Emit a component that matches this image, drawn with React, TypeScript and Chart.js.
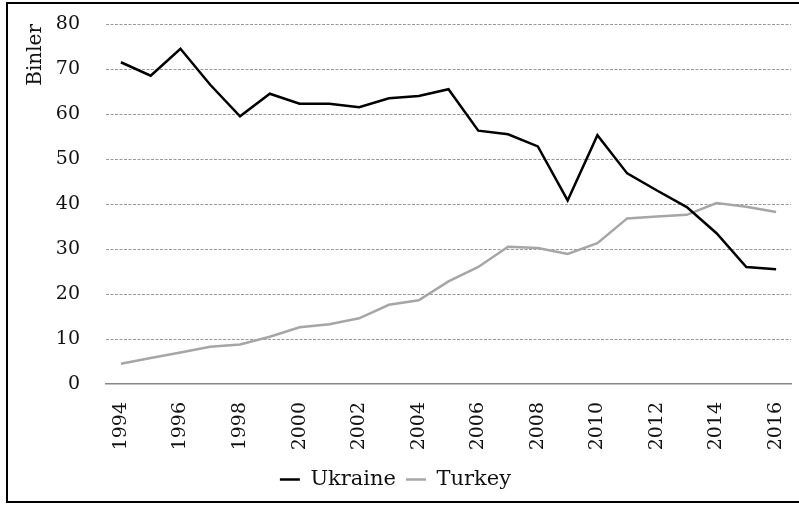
import React, { useEffect, useRef } from "react";
import { Chart, registerables } from "chart.js";

Chart.register(...registerables);

const years = ["1994","1995","1996","1997","1998","1999","2000","2001","2002","2003","2004","2005","2006","2007","2008","2009","2010","2011","2012","2013","2014","2015","2016"];
const ukraine = [71.5, 68.5, 74.5, 66.5, 59.5, 64.5, 62.3, 62.3, 61.5, 63.5, 64.0, 65.5, 56.3, 55.5, 52.8, 40.8, 55.3, 46.8, 43.0, 39.3, 33.5, 26.0, 25.5];
const turkey = [4.5, 5.8, 7.0, 8.3, 8.8, 10.5, 12.6, 13.3, 14.6, 17.6, 18.6, 22.8, 26.0, 30.5, 30.2, 28.9, 31.3, 36.8, 37.2, 37.6, 40.2, 39.4, 38.2];
const yTitle = "Binler";

const FONT = "'DejaVu Serif', serif";

export default function App() {
  const ref = useRef<HTMLCanvasElement>(null);
  useEffect(() => {
    document.body.style.margin = "0";
    const chart = new Chart(ref.current!, {
      type: "line",
      data: {
        labels: years,
        datasets: [
          { label: "Ukraine", data: ukraine, borderColor: "#000000", backgroundColor: "#000000", borderWidth: 2.5, pointRadius: 0, tension: 0 },
          { label: "Turkey", data: turkey, borderColor: "#a6a6a6", backgroundColor: "#a6a6a6", borderWidth: 2.5, pointRadius: 0, tension: 0 },
        ],
      },
      options: {
        animation: false,
        responsive: false,
        layout: { padding: { left: 0, right: 8, top: 24, bottom: 5 } },
        plugins: {
          tooltip: { enabled: false },
          legend: {
            position: "bottom",
            labels: {
              usePointStyle: true,
              pointStyle: "line",
              pointStyleWidth: 20,
              color: "#111",
              padding: 10,
              font: { family: FONT, size: 21 },
            },
          },
        },
        scales: {
          x: {
            offset: true,
            grid: { display: false, drawTicks: false },
            border: { display: true, color: "#888", width: 1.5 },
            ticks: {
              autoSkip: false,
              minRotation: 90,
              maxRotation: 90,
              padding: 18,
              color: "#111",
              font: { family: FONT, size: 19 },
              callback: (_v: any, i: number) => (i % 2 === 0 ? years[i] : ""),
            },
            afterFit: (s: any) => { s.height = 75; s.paddingLeft = 0; s.paddingRight = 0; },
          },
          y: {
            min: 0,
            max: 80,
            grid: {
              drawTicks: false,
              color: (c: any) => (c.tick && c.tick.value === 0 ? "rgba(0,0,0,0)" : "#9a9a9a"),
              lineWidth: 1,
            },
            border: { display: false, dash: [3, 1.5] },
            ticks: { stepSize: 10, padding: 26, color: "#111", font: { family: FONT, size: 19 } },
            title: { display: true, text: yTitle, align: "end", color: "#111", font: { family: FONT, size: 20 }, padding: { top: 24, bottom: 0 } },
            afterFit: (s: any) => { s.width = 106; s.paddingTop = 0; s.paddingBottom = 0; },
          },
        },
      },
    });
    return () => chart.destroy();
  }, []);
  return (
    <div style={{ position: "relative", width: 799, height: 505, overflow: "hidden", background: "#fff" }}>
      <canvas ref={ref} width={799} height={505} style={{ position: "absolute", left: 0, top: 0 }} />
      <div style={{ position: "absolute", left: 6, top: 2, width: 900, height: 497, border: "2px solid #000", pointerEvents: "none" }} />
    </div>
  );
}
